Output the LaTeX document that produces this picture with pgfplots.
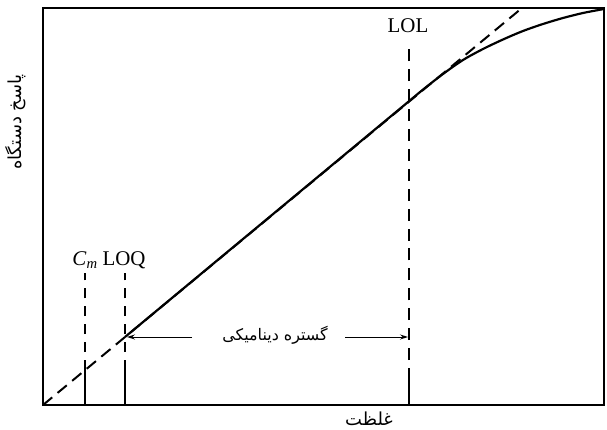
\documentclass[border=0pt]{standalone}
\usepackage{pgfplots}
\pgfplotsset{compat=1.18}
\usepackage{fontspec}
\setmainfont{Liberation Serif}
\newfontfamily\arabicfont[Script=Arabic]{DejaVu Sans}
\TeXXeTstate=1
\usetikzlibrary{arrows.meta}

\begin{document}
\begin{tikzpicture}
\begin{axis}[
  scale only axis,
  width=561bp, height=397bp,
  xmin=0, xmax=561, ymin=0, ymax=397,
  xtick=\empty, ytick=\empty,
  axis line style={line width=1.5pt},
  clip=false,
]
% ideal linear response, extrapolated
\addplot[line width=2pt, dash pattern=on 12pt off 7pt] coordinates {(0,0) (479,397)};
% measured response: linear, then bending over
\addplot[line width=2.2pt, smooth, tension=0.5] coordinates {
  (82,68) (200,166) (300,249) (360,298.8) (380,315.4) (400,331)
  (420,345) (440,356) (460,365.5) (480,374) (500,381) (520,387)
  (540,392) (561,396)};
% C_m marker
\addplot[line width=1.2pt] coordinates {(42,0) (42,35)};
\addplot[line width=1.2pt, dash pattern=on 10pt off 8pt] coordinates {(42,35) (42,132)};
% LOQ marker
\addplot[line width=1.2pt] coordinates {(82,0) (82,35)};
\addplot[line width=1.2pt, dash pattern=on 10pt off 8pt] coordinates {(82,35) (82,132)};
% LOL marker
\addplot[line width=1.2pt] coordinates {(366,0) (366,25)};
\addplot[line width=1.2pt, dash pattern=on 12pt off 8pt] coordinates {(366,25) (366,362)};
% dynamic range arrows
\draw[line width=1pt, -{Stealth[length=8pt,width=5pt]}] (axis cs:149,68) -- (axis cs:84,68);
\draw[line width=1pt, -{Stealth[length=8pt,width=5pt]}] (axis cs:302,68) -- (axis cs:365,68);
\node[font=\fontsize{16}{19}\selectfont\arabicfont] at (axis cs:232,70) {\beginR گستره دینامیکی\endR};
% marker labels
\node[font=\fontsize{21}{24}\selectfont] at (axis cs:42,145) {\textit{C}\textsubscript{\textit{m}}};
\node[font=\fontsize{21}{24}\selectfont] at (axis cs:81,145) {LOQ};
\node[font=\fontsize{21}{24}\selectfont] at (axis cs:365,379) {LOL};
% axis titles
\node[font=\fontsize{18}{21}\selectfont\arabicfont] at (axis cs:326,-14) {\beginR غلظت\endR};
\node[rotate=90, font=\fontsize{18}{21}\selectfont\arabicfont] at (axis cs:-27,283) {\beginR پاسخ دستگاه\endR};
\end{axis}
\path (current axis.south west) ++(-43bp,-22bp) coordinate (bbA);
\path (current axis.north east) ++(3bp,8bp) coordinate (bbB);
\path (bbA) rectangle (bbB);
\end{tikzpicture}
\end{document}
